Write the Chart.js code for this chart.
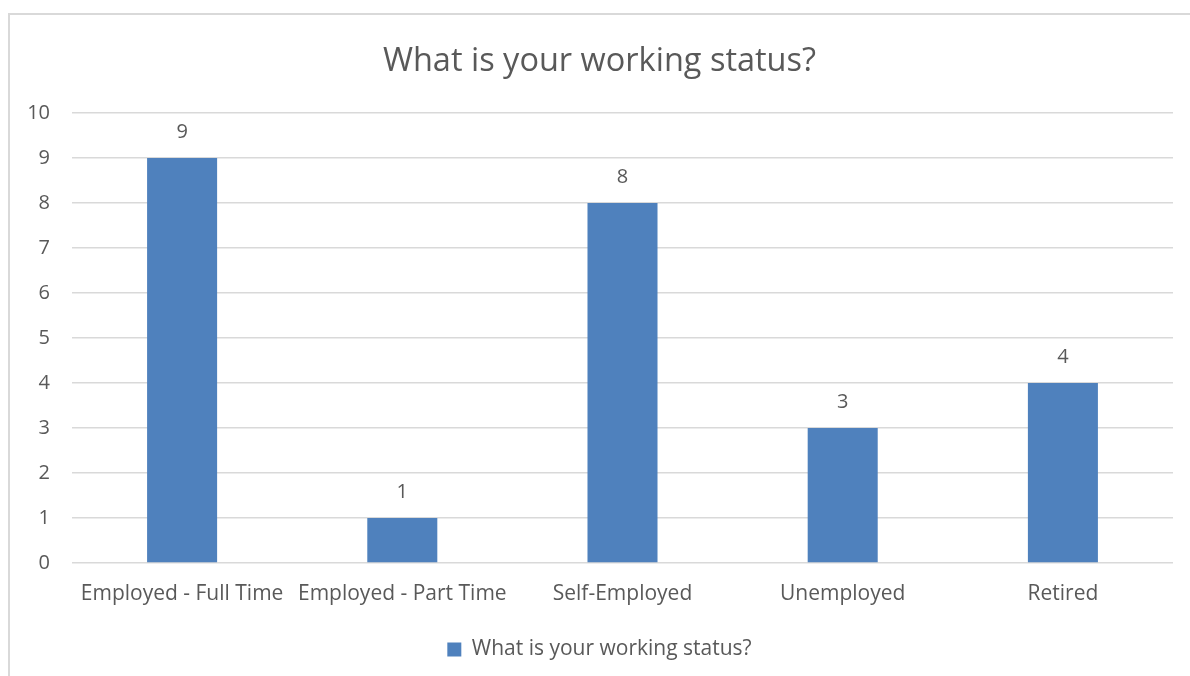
<!DOCTYPE html>
<html>
<head>
<meta charset="utf-8">
<script src="https://cdn.jsdelivr.net/npm/chart.js@4/dist/chart.umd.min.js"></script>
<style>
  body { margin: 0; background: #fff; overflow: hidden; }
  #frame {
    position: absolute; left: 8px; top: 13px; width: 1200px; height: 700px;
    border: 2px solid #d9d9d9; pointer-events: none;
  }
  canvas { position: absolute; left: 0; top: 0; }
</style>
</head>
<body>
<div id="frame"></div>
<canvas id="chart" width="1190" height="676"></canvas>
<script>
const categories = ["Employed - Full Time", "Employed - Part Time", "Self-Employed", "Unemployed", "Retired"];
const counts = [9, 1, 8, 3, 4];
const seriesName = "What is your working status?";
const yTicks = [0, 1, 2, 3, 4, 5, 6, 7, 8, 9, 10];

const textColor = "#595959";
const fontFamily = "'Open Sans', sans-serif";

// value labels above each bar
const barValues = {
    id: "barValues",
    afterDatasetsDraw(chart) {
        const ctx = chart.ctx;
        const meta = chart.getDatasetMeta(0);
        const data = chart.data.datasets[0].data;
        ctx.save();
        ctx.fillStyle = textColor;
        ctx.font = "20px " + fontFamily;
        ctx.textAlign = "center";
        ctx.textBaseline = "middle";
        meta.data.forEach((bar, i) => {
            ctx.fillText(String(data[i]), bar.x, bar.y - 26);
        });
        ctx.restore();
    }
};

new Chart(document.getElementById("chart"), {
    type: "bar",
    data: {
        labels: categories,
        datasets: [{
            label: seriesName,
            data: counts,
            backgroundColor: "#4f81bd",
            barPercentage: 0.318,
            categoryPercentage: 1.0,
        }]
    },
    options: {
        responsive: false,
        animation: false,
        // left padding nudges title and legend right; y axis width keeps plot at x=72
        layout: { padding: { left: 26, right: 17, top: 0, bottom: 6 } },
        plugins: {
            title: {
                display: true,
                text: seriesName,
                color: textColor,
                font: { family: fontFamily, size: 32.5, weight: "normal" },
                padding: { top: 42, bottom: 32 },
            },
            legend: {
                position: "bottom",
                labels: {
                    color: textColor,
                    font: { family: fontFamily, size: 21 },
                    boxWidth: 14,
                    boxHeight: 14,
                },
            },
            tooltip: { enabled: false },
        },
        scales: {
            x: {
                grid: { display: false },
                border: { display: false },
                ticks: {
                    color: textColor,
                    font: { family: fontFamily, size: 21 },
                    padding: 10,
                    maxRotation: 0,
                },
                afterFit(scale) { scale.height = 66; },
            },
            y: {
                min: 0,
                max: 10,
                afterBuildTicks(scale) { scale.ticks = yTicks.map(v => ({ value: v })); },
                grid: { color: "#d9d9d9", lineWidth: 1.5, drawTicks: false },
                border: { display: false },
                ticks: {
                    color: textColor,
                    font: { family: fontFamily, size: 20 },
                    padding: 22,
                },
                afterFit(scale) { scale.width = 46; },
            },
        },
    },
    plugins: [barValues],
});
</script>
</body>
</html>
